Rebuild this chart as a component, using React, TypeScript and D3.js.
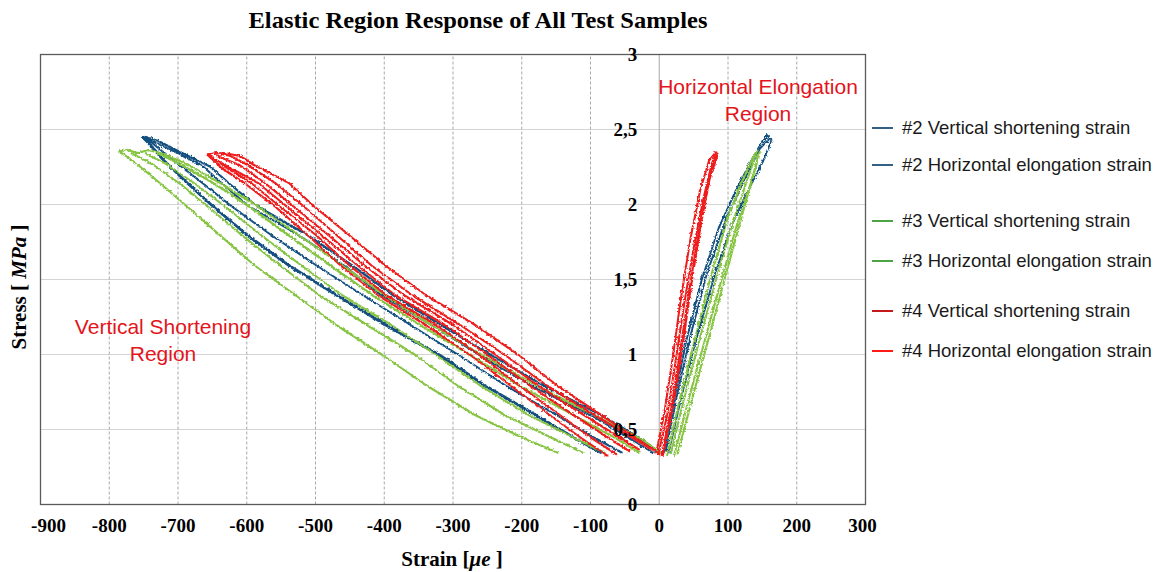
import React from "react";
import * as d3 from "d3";

// ---- axis ticks ----
const xTicks = [-900, -800, -700, -600, -500, -400, -300, -200, -100, 0, 100, 200, 300];
const yTicks = [0, 0.5, 1, 1.5, 2, 2.5, 3];
const yTickLabels = ["0", "0,5", "1", "1,5", "2", "2,5", "3"];

type P = [number, number];

// ---- #2 (blue) ----
const s2Vertical: P[][] = [
  [[-85, 0.35], [-125, 0.45], [-180, 0.6], [-255, 0.8], [-320, 1.0], [-398, 1.2], [-470, 1.4], [-540, 1.6], [-600, 1.8], [-652, 2.0], [-688, 2.15], [-722, 2.3], [-745, 2.42], [-754, 2.46]],
  [[-55, 0.35], [-95, 0.45], [-150, 0.6], [-225, 0.8], [-292, 1.0], [-362, 1.2], [-432, 1.4], [-500, 1.6], [-565, 1.8], [-625, 2.0], [-666, 2.15], [-708, 2.3], [-740, 2.42], [-752, 2.45]],
  [[-10, 0.35], [-45, 0.45], [-100, 0.6], [-188, 0.8], [-262, 1.0], [-332, 1.2], [-405, 1.4], [-460, 1.6], [-525, 1.8], [-600, 2.0], [-638, 2.15], [-665, 2.26], [-705, 2.36], [-735, 2.42], [-754, 2.46]],
  [[0, 0.35], [-30, 0.45], [-85, 0.6], [-170, 0.8], [-245, 1.0], [-318, 1.2], [-388, 1.4], [-448, 1.6], [-512, 1.8], [-588, 2.0], [-628, 2.15], [-655, 2.26], [-700, 2.36], [-730, 2.43], [-750, 2.46]],
];
const s2Horizontal: P[][] = [
  [[5, 0.35], [20, 0.7], [38, 1.1], [60, 1.5], [85, 1.85], [110, 2.1], [135, 2.32], [150, 2.44], [158, 2.46]],
  [[8, 0.36], [25, 0.75], [45, 1.15], [68, 1.55], [95, 1.9], [122, 2.17], [145, 2.38], [160, 2.45]],
  [[12, 0.35], [32, 0.75], [55, 1.15], [80, 1.55], [105, 1.88], [130, 2.12], [150, 2.3], [162, 2.44], [155, 2.47], [150, 2.43]],
];

// ---- #3 (green) ----
const s3Vertical: P[][] = [
  [[-148, 0.35], [-200, 0.45], [-268, 0.6], [-340, 0.8], [-403, 1.0], [-470, 1.2], [-530, 1.4], [-590, 1.6], [-640, 1.8], [-690, 2.0], [-728, 2.15], [-762, 2.28], [-780, 2.34], [-788, 2.36]],
  [[-112, 0.35], [-180, 0.5], [-225, 0.6], [-295, 0.8], [-355, 1.0], [-425, 1.2], [-495, 1.4], [-553, 1.6], [-608, 1.8], [-660, 2.0], [-700, 2.15], [-740, 2.28], [-770, 2.35]],
  [[-80, 0.35], [-125, 0.45], [-190, 0.6], [-262, 0.8], [-325, 1.0], [-390, 1.2], [-462, 1.4], [-522, 1.6], [-580, 1.8], [-635, 2.0], [-678, 2.15], [-720, 2.28], [-750, 2.35]],
  [[-30, 0.35], [-65, 0.45], [-125, 0.6], [-205, 0.8], [-275, 1.0], [-348, 1.2], [-418, 1.4], [-480, 1.6], [-540, 1.8], [-600, 2.0], [-650, 2.15], [-700, 2.28], [-732, 2.35]],
  [[5, 0.34], [-30, 0.45], [-95, 0.6], [-180, 0.8], [-258, 1.0], [-332, 1.2], [-400, 1.4], [-462, 1.6], [-525, 1.8], [-588, 2.0], [-640, 2.15], [-690, 2.28], [-727, 2.35], [-745, 2.37], [-760, 2.35], [-775, 2.37], [-788, 2.36]],
];
const s3Horizontal: P[][] = [
  [[10, 0.33], [28, 0.7], [50, 1.1], [72, 1.5], [97, 1.9], [118, 2.15], [135, 2.32], [142, 2.37]],
  [[15, 0.34], [35, 0.72], [58, 1.12], [82, 1.52], [105, 1.88], [125, 2.15], [140, 2.35]],
  [[20, 0.33], [42, 0.72], [66, 1.12], [90, 1.52], [112, 1.88], [130, 2.12], [143, 2.33]],
  [[25, 0.34], [48, 0.74], [72, 1.14], [96, 1.55], [118, 1.92], [135, 2.2], [145, 2.36]],
];

// ---- #4 (red) ----
const s4Vertical: P[][] = [
  [[-3, 0.35], [-35, 0.45], [-85, 0.6], [-150, 0.8], [-205, 1.0], [-268, 1.2], [-340, 1.4], [-400, 1.6], [-452, 1.8], [-505, 2.0], [-540, 2.15], [-591, 2.27], [-611, 2.33], [-635, 2.35], [-659, 2.34]],
  [[0, 0.34], [-40, 0.45], [-95, 0.6], [-165, 0.8], [-225, 1.0], [-290, 1.2], [-360, 1.4], [-420, 1.6], [-470, 1.8], [-520, 2.0], [-560, 2.15], [-600, 2.27], [-625, 2.33], [-645, 2.35], [-659, 2.34]],
  [[-30, 0.37], [-58, 0.45], [-110, 0.6], [-178, 0.8], [-238, 1.0], [-300, 1.2], [-372, 1.4], [-430, 1.6], [-482, 1.8], [-535, 2.0], [-575, 2.15], [-612, 2.27], [-645, 2.33]],
  [[-44, 0.36], [-75, 0.45], [-125, 0.6], [-190, 0.8], [-250, 1.0], [-312, 1.2], [-385, 1.4], [-440, 1.6], [-492, 1.8], [-545, 2.0], [-585, 2.15], [-625, 2.25], [-645, 2.3], [-659, 2.34]],
  [[-63, 0.34], [-100, 0.45], [-145, 0.6], [-205, 0.8], [-262, 1.0], [-325, 1.2], [-398, 1.4], [-452, 1.6], [-500, 1.8], [-555, 2.0], [-595, 2.15], [-630, 2.25], [-659, 2.34]],
  [[-76, 0.33], [-115, 0.45], [-160, 0.6], [-218, 0.8], [-275, 1.0], [-340, 1.2], [-410, 1.4], [-465, 1.6], [-512, 1.8], [-562, 2.0], [-605, 2.15], [-638, 2.25], [-659, 2.34]],
];
const s4Horizontal: P[][] = [
  [[-3, 0.34], [10, 0.6], [22, 0.95], [35, 1.35], [50, 1.75], [63, 2.05], [75, 2.28], [82, 2.36]],
  [[2, 0.33], [16, 0.65], [28, 1.0], [41, 1.4], [55, 1.8], [67, 2.1], [78, 2.3], [84, 2.35]],
  [[-5, 0.37], [6, 0.62], [18, 0.98], [30, 1.38], [44, 1.78], [58, 2.1], [71, 2.3], [80, 2.35]],
  [[4, 0.34], [20, 0.7], [33, 1.08], [46, 1.5], [60, 1.9], [72, 2.18], [83, 2.33]],
];

const legendLabels = [
  "#2 Vertical shortening strain",
  "#2 Horizontal elongation strain",
  "#3 Vertical shortening strain",
  "#3 Horizontal elongation strain",
  "#4 Vertical shortening strain",
  "#4 Horizontal elongation strain",
];
const legendColors = ["#1f4e79", "#1f4e79", "#3a9a2f", "#3a9a2f", "#c00000", "#ff0000"];
const legendY = [128, 165, 221, 261, 311, 351];

const BLUE = "#12507f";
const GREEN = "#86c443";
const RED = "#ee1c1c";

export default function App() {
  const x = d3.scaleLinear().domain([-900, 300]).range([40.5, 865.5]);
  const y = d3.scaleLinear().domain([0, 3]).range([504.5, 54.5]);
  const line = d3
    .line<P>()
    .x((d) => x(d[0]))
    .y((d) => y(d[1]));

  const groups: { lines: P[][]; color: string; w: number[] }[] = [
    { lines: s2Vertical, color: BLUE, w: [2.8, 2.0, 2.0, 2.2] },
    { lines: s2Horizontal, color: BLUE, w: [1.9, 1.9, 1.9] },
    { lines: s3Vertical, color: GREEN, w: [2.1, 2.1, 2.1, 2.4, 2.1] },
    { lines: s3Horizontal, color: GREEN, w: [2.1, 2.1, 2.1, 2.1] },
    { lines: s4Vertical, color: RED, w: [2.1, 2.1, 2.1, 2.1, 2.1, 2.1] },
    { lines: s4Horizontal, color: RED, w: [2.0, 2.0, 2.0, 2.0] },
  ];

  const serif = "'Liberation Serif', 'Times New Roman', serif";
  const sans = "'Liberation Sans', Arial, sans-serif";

  return (
    <svg
      width={1164}
      height={572}
      style={{ position: "absolute", left: 0, top: 0, background: "#fff" }}
    >
      <defs>
        <filter id="jag" filterUnits="userSpaceOnUse" x={0} y={0} width={1164} height={572}>
          <feTurbulence type="turbulence" baseFrequency="0.28" numOctaves={1} seed={4} result="n" />
          <feDisplacementMap in="SourceGraphic" in2="n" scale={3} xChannelSelector="R" yChannelSelector="G" />
        </filter>
      </defs>
      <rect x={0} y={0} width={1164} height={572} fill="#fff" />
      <text
        x={478}
        y={28}
        textAnchor="middle"
        fontFamily={serif}
        fontWeight="bold"
        fontSize={24}
        textLength={459}
        lengthAdjust="spacingAndGlyphs"
      >
        Elastic Region Response of All Test Samples
      </text>

      {/* grid */}
      {yTicks.slice(1, -1).map((t) => (
        <line key={"hy" + t} x1={x(-900)} x2={x(300)} y1={y(t)} y2={y(t)} stroke="#d4d4d4" strokeWidth={1} />
      ))}
      {xTicks.slice(1, -1).map((t) =>
        t === 0 ? (
          <line key={"vx" + t} x1={x(t)} x2={x(t)} y1={y(0)} y2={y(3)} stroke="#b8b8b8" strokeWidth={1.2} />
        ) : (
          <line key={"vx" + t} x1={x(t)} x2={x(t)} y1={y(0)} y2={y(3)} stroke="#a8a8a8" strokeWidth={1} strokeDasharray="3,2" />
        )
      )}
      {/* border */}
      <rect x={x(-900)} y={y(3)} width={x(300) - x(-900)} height={y(0) - y(3)} fill="none" stroke="#5a5a5a" strokeWidth={1.3} />

      {/* data */}
      <g filter="url(#jag)" fill="none" strokeLinejoin="round">
        {groups.map((g, gi) =>
          g.lines.map((l, li) => (
            <path key={gi + "-" + li} d={line(l) || ""} stroke={g.color} strokeWidth={g.w[li]} />
          ))
        )}
      </g>

      {/* y tick labels */}
      {yTicks.map((t, i) => (
        <text
          key={"yl" + t}
          x={x(0) - 22}
          y={y(t)}
          dy="0.35em"
          textAnchor="end"
          fontFamily={serif}
          fontWeight="bold"
          fontSize={19}
        >
          {yTickLabels[i]}
        </text>
      ))}
      {/* x tick labels */}
      {xTicks.map((t) => (
        <text
          key={"xl" + t}
          x={t === -900 ? x(t) + 8 : t === 300 ? x(t) - 3 : x(t)}
          y={525}
          dy="0.35em"
          textAnchor="middle"
          fontFamily={serif}
          fontWeight="bold"
          fontSize={19}
        >
          {t}
        </text>
      ))}

      {/* axis titles */}
      <text x={452} y={566} textAnchor="middle" fontFamily={serif} fontWeight="bold" fontSize={21}>
        Strain{"  "}[<tspan fontStyle="italic">μe</tspan> ]
      </text>
      <text
        transform={`translate(26,287) rotate(-90)`}
        textAnchor="middle"
        fontFamily={serif}
        fontWeight="bold"
        fontSize={21}
      >
        Stress{"  "}[ <tspan fontStyle="italic">MPa</tspan> ]
      </text>

      {/* annotations */}
      <g fontFamily={sans} fontSize={21} fill="#e3141b" textAnchor="middle">
        <text x={758} y={94}>Horizontal Elongation</text>
        <text x={758} y={121}>Region</text>
        <text x={163} y={334}>Vertical Shortening</text>
        <text x={163} y={361}>Region</text>
      </g>

      {/* legend */}
      {legendLabels.map((lab, i) => (
        <g key={lab}>
          <line x1={872} x2={893} y1={legendY[i]} y2={legendY[i]} stroke={legendColors[i]} strokeWidth={1.8} />
          <text x={902} y={legendY[i]} dy="0.35em" fontFamily={sans} fontSize={18.5} fill="#1a1a1a">
            {lab}
          </text>
        </g>
      ))}
    </svg>
  );
}
